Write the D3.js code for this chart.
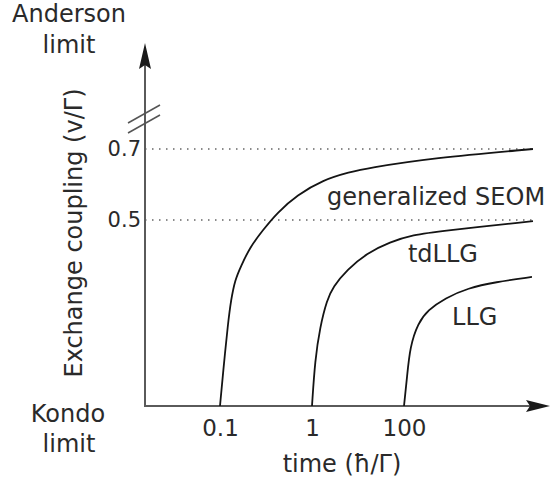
<!DOCTYPE html>
<html>
<head>
<meta charset="utf-8">
<script src="https://cdn.jsdelivr.net/npm/d3@7"></script>
<style>
  body { margin: 0; background: #fff; }
  text { font-family: "DejaVu Sans", Verdana, sans-serif; fill: #2a2a2a; }
</style>
</head>
<body>
<div id="chart"></div>
<script>
(function (d3) {
  'use strict';

  const width = 550;
  const height = 483;

  // schematic x positions (0.1, 1, 100 are evenly spaced on the sketch)
  const xTickPos = [1, 2, 3];
  const xTickLabels = ["0.1", "1", "100"];
  const yTickValues = [0.5, 0.7];
  const yTickLabels = ["0.5", "0.7"];

  // curves: [x position, exchange coupling]
  const seom = [[1.0, 0], [1.033, 0.089], [1.087, 0.223], [1.12, 0.285], [1.163, 0.339],
    [1.228, 0.376], [1.326, 0.427], [1.467, 0.473], [1.62, 0.52], [1.837, 0.57], [2.12, 0.613],
    [2.413, 0.635], [2.598, 0.646], [3.315, 0.675], [4.402, 0.700]];
  const tdllg = [[2.0, 0], [2.033, 0.124], [2.087, 0.212], [2.163, 0.285], [2.228, 0.32],
    [2.38, 0.366], [2.598, 0.411], [2.848, 0.441], [3.098, 0.46], [3.391, 0.47], [4.402, 0.497]];
  const llg = [[3.0, 0], [3.033, 0.078], [3.065, 0.159], [3.152, 0.223], [3.261, 0.258],
    [3.446, 0.29], [3.696, 0.317], [3.989, 0.333], [4.391, 0.347]];
  const curveNames = ["generalized SEOM", "tdLLG", "LLG"];
  const labelPos = [[2.163, 0.542], [3.043, 0.387], [3.522, 0.218]];

  const x = d3.scaleLinear().domain([1, 3]).range([220, 404]);
  const y = d3.scaleLinear().domain([0, 0.5, 0.7]).range([406, 220, 149]);

  const x0 = 145, y0 = 406;
  const xEnd = 550, yTop = 43;
  const axisColor = "#5a5a5a";

  const svg = d3.select("#chart").append("svg")
    .attr("width", width)
    .attr("height", height);

  // dotted reference lines
  svg.selectAll("line.ref")
    .data(yTickValues)
    .enter()
    .append("line")
    .attr("class", "ref")
    .attr("x1", x0)
    .attr("x2", x(4.402))
    .attr("y1", d => y(d))
    .attr("y2", d => y(d))
    .style("stroke", "#666")
    .style("stroke-width", 1.3)
    .style("stroke-dasharray", "1.5,5.5");

  // axis lines
  svg.append("line")
    .attr("x1", x0).attr("y1", y0).attr("x2", x0).attr("y2", yTop + 18)
    .style("stroke", axisColor).style("stroke-width", 2);
  svg.append("line")
    .attr("x1", x0 - 1).attr("y1", y0).attr("x2", xEnd - 18).attr("y2", y0)
    .style("stroke", axisColor).style("stroke-width", 2);

  // arrow heads
  svg.append("path")
    .attr("d", `M${x0},${yTop} L${x0 + 6},${yTop + 26} L${x0},${yTop + 22} L${x0 - 6},${yTop + 26} Z`)
    .style("fill", "#1a1a1a");
  svg.append("path")
    .attr("d", `M${xEnd},${y0} L${xEnd - 24},${y0 + 6} L${xEnd - 20},${y0} L${xEnd - 24},${y0 - 6} Z`)
    .style("fill", "#1a1a1a");

  // axis break
  [113.5, 123.5].forEach(function (cy) {
    svg.append("line")
      .attr("x1", x0 - 17).attr("y1", cy + 9.5)
      .attr("x2", x0 + 15).attr("y2", cy - 8.5)
      .style("stroke", "#555").style("stroke-width", 1.5);
  });

  // x tick labels
  const xAxis = d3.axisBottom(x)
    .tickValues(xTickPos)
    .tickSize(0)
    .tickPadding(14)
    .tickFormat((d, i) => xTickLabels[i]);
  const gx = svg.append("g")
    .attr("transform", "translate(0," + y0 + ")")
    .call(xAxis);
  gx.select(".domain").remove();
  gx.selectAll("text")
    .style("font-size", "23px")
    .style("font-family", "DejaVu Sans, sans-serif")
    .style("fill", "#2a2a2a");

  // y tick labels
  const yAxis = d3.axisLeft(y)
    .tickValues(yTickValues)
    .tickSize(0)
    .tickPadding(4)
    .tickFormat((d, i) => yTickLabels[i]);
  const gy = svg.append("g")
    .attr("transform", "translate(" + x0 + ",0)")
    .call(yAxis);
  gy.select(".domain").remove();
  gy.selectAll("text")
    .style("font-size", "21px")
    .style("font-family", "DejaVu Sans, sans-serif")
    .style("fill", "#2a2a2a");

  // curves
  const line = d3.line()
    .x(d => x(d[0]))
    .y(d => y(d[1]))
    .curve(d3.curveBasis);

  svg.selectAll("path.curve")
    .data([seom, tdllg, llg])
    .enter()
    .append("path")
    .attr("class", "curve")
    .attr("d", line)
    .style("fill", "none")
    .style("stroke", "#141414")
    .style("stroke-width", 1.8);

  // curve labels
  svg.selectAll("text.curveLabel")
    .data(curveNames)
    .enter()
    .append("text")
    .attr("class", "curveLabel")
    .attr("x", (d, i) => x(labelPos[i][0]))
    .attr("y", (d, i) => y(labelPos[i][1]))
    .style("font-size", "24px")
    .text(d => d);

  // axis titles
  svg.append("text")
    .attr("x", 342)
    .attr("y", 472)
    .style("text-anchor", "middle")
    .style("font-size", "24px")
    .text("time (ħ/Γ)");

  svg.append("text")
    .attr("transform", "translate(82,233) rotate(-90)")
    .style("text-anchor", "middle")
    .style("font-size", "24px")
    .text("Exchange coupling (v/Γ)");

  // limit labels
  const limitLabels = [["Anderson", 69, 22], ["limit", 69, 53], ["Kondo", 68, 422], ["limit", 69, 452]];
  svg.selectAll("text.limit")
    .data(limitLabels)
    .enter()
    .append("text")
    .attr("class", "limit")
    .attr("x", d => d[1])
    .attr("y", d => d[2])
    .style("text-anchor", "middle")
    .style("font-size", "24px")
    .text(d => d[0]);

}(d3));
</script>
</body>
</html>
